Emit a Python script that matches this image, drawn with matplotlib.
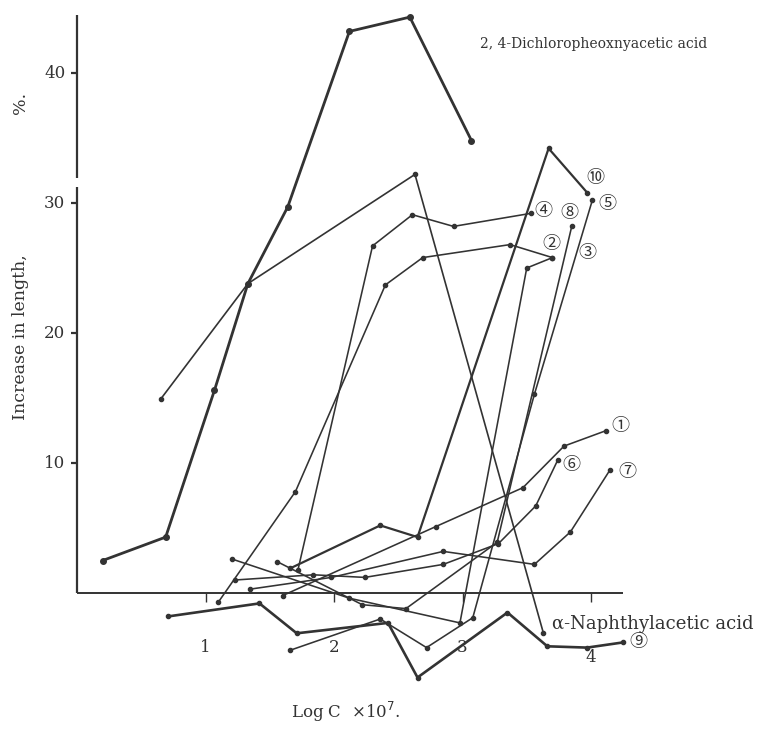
import numpy as np
import matplotlib
matplotlib.use("Agg")
import matplotlib.pyplot as plt

# log C x 10^7 (x) and increase in length, % (y)
# 2,4-dichlorophenoxyacetic acid
d24_a_x = [0.20, 0.69, 1.07, 1.33, 1.64, 2.12, 2.59, 3.07]
d24_a_y = [2.5, 4.3, 15.6, 23.8, 29.7, 43.2, 44.3, 34.8]
d24_b_x = [0.65, 1.33, 2.63, 3.63]
d24_b_y = [14.9, 23.8, 32.2, -3.1]

# alpha-naphthylacetic acid, runs 1-10
naa = {
    "1": ([1.60, 2.79, 3.47, 3.79, 4.12], [-0.2, 5.1, 8.1, 11.3, 12.5]),
    "2": ([1.10, 1.70, 2.40, 2.69, 3.37, 3.70], [-0.7, 7.8, 23.7, 25.8, 26.8, 25.8]),
    "3": ([1.21, 2.12, 2.98, 3.50, 3.70], [2.6, -0.4, -2.3, 25.0, 25.8]),
    "4": ([1.72, 2.30, 2.61, 2.93, 3.53], [1.8, 26.7, 29.1, 28.2, 29.2]),
    "5": ([1.66, 2.36, 2.72, 3.08, 3.56, 4.01], [-4.4, -2.0, -4.2, -1.9, 15.3, 30.2]),
    "6": ([1.23, 1.84, 2.24, 2.85, 3.28, 3.57, 3.74], [1.0, 1.4, 1.2, 2.2, 3.8, 6.7, 10.2]),
    "7": ([1.35, 1.98, 2.85, 3.56, 3.84, 4.15], [0.3, 1.2, 3.2, 2.2, 4.7, 9.5]),
    "8": ([1.56, 2.22, 2.56, 3.27, 3.85], [2.4, -0.9, -1.2, 3.9, 28.2]),
    "9": ([0.71, 1.42, 1.71, 2.42, 2.65, 3.35, 3.66, 3.97, 4.25],
          [-1.8, -0.8, -3.1, -2.3, -6.5, -1.5, -4.1, -4.2, -3.8]),
    "10": ([1.66, 2.36, 2.65, 3.67, 3.97], [1.9, 5.2, 4.3, 34.2, 30.8]),
}
CIRC = {"1": "①", "2": "②", "3": "③", "4": "④", "5": "⑤",
        "6": "⑥", "7": "⑦", "8": "⑧", "9": "⑨", "10": "⑩"}
# label offset from the last point, pixels
OFF = {"1": (14, 5), "2": (-1, 14), "3": (35, 5), "4": (13, 2), "5": (15, -4),
       "6": (14, -5), "7": (17, -3), "8": (-2, 13), "9": (15, 0), "10": (8, 15)}
LW = {"9": 1.9, "10": 1.6}

INK = "#333333"
SERIF = ["DejaVu Serif", "Noto Sans CJK JP"]

fig = plt.figure(figsize=(7.77, 7.37), dpi=100)
ax = fig.add_axes([0, 0, 1, 1])
ax.set_xlim(-77 / 128.5, 700 / 128.5)
ax.set_ylim(-144 / 13, 593 / 13)
ax.axis("off")

# axes drawn by hand (broken y axis as in the original)
ax.vlines(0, 0, 31.2, color=INK, lw=1.6)
ax.vlines(0, 31.9, 44.5, color=INK, lw=1.6)
ax.hlines(0, 0, 4.25, color=INK, lw=1.4)
for t in [10, 20, 30, 40]:
    ax.hlines(t, -0.05, 0, color=INK, lw=1.6)
    ax.text(-0.09, t, str(t), ha="right", va="center", fontsize=12,
            family=SERIF, color=INK)
for t in [1, 2, 3, 4]:
    ax.vlines(t, -0.7, 0, color=INK, lw=1.0)
    ax.text(t, -4.2 if t < 4 else -5.0, str(t), ha="center", va="center",
            fontsize=12, family=SERIF, color=INK)

ax.plot(d24_a_x, d24_a_y, "-o", color=INK, lw=2.0, ms=4)
ax.plot(d24_b_x, d24_b_y, "-o", color=INK, lw=1.2, ms=3)
for k, (xs, ys) in naa.items():
    ax.plot(xs, ys, "-o", color=INK, lw=LW.get(k, 1.15), ms=3)
    ax.annotate(CIRC[k], (xs[-1], ys[-1]), xytext=OFF[k],
                textcoords="offset pixels", ha="center", va="center",
                fontsize=13, family=SERIF, color=INK)

ax.text(3.14, 42.2, "2, 4-Dichloropheoxnyacetic acid", fontsize=10,
        family=SERIF, color=INK, va="center")
ax.text(3.70, -2.4, "α-Naphthylacetic acid", fontsize=13,
        family=SERIF, color=INK, va="center")
ax.text(2.09, -9.15, "Log C  ×10$^7$.", fontsize=12, ha="center",
        va="center", family=SERIF, color=INK)
ax.text(-0.44, 19.7, "Increase in length,", rotation=90, fontsize=12.5,
        ha="center", va="center", family=SERIF, color=INK)
ax.text(-0.44, 37.7, "%.", rotation=90, fontsize=12.5,
        ha="center", va="center", family=SERIF, color=INK)

fig.savefig("out.png", dpi=100, facecolor="white")
